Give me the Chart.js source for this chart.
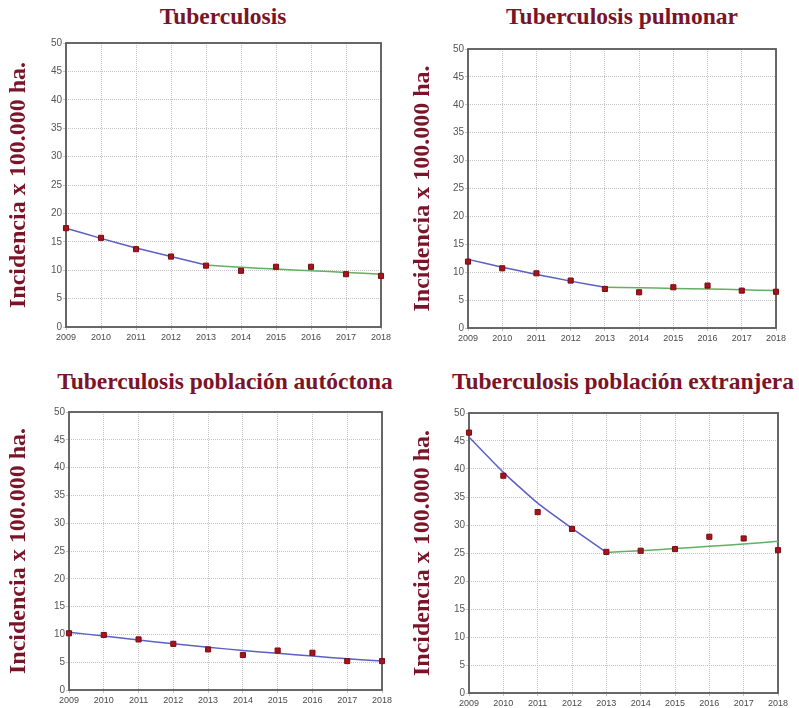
<!DOCTYPE html>
<html>
<head>
<meta charset="utf-8">
<script src="https://cdn.jsdelivr.net/npm/chart.js@4.4.1/dist/chart.umd.min.js"></script>
<style>
  body { margin: 0; background: #fff; width: 799px; height: 708px; position: relative; overflow: hidden; }
  .box { position: absolute; }
  .ttl {
    position: absolute; width: 420px; text-align: center; white-space: nowrap;
    font-family: "Liberation Serif", "Times New Roman", serif; font-weight: bold;
    font-size: 23.5px; color: #7a1428; line-height: 28px;
  }
</style>
</head>
<body>

<div class="ttl" style="left:13px;top:2px">Tuberculosis</div>
<div class="ttl" style="left:412px;top:2px">Tuberculosis pulmonar</div>
<div class="ttl" style="left:15px;top:367px">Tuberculosis población autóctona</div>
<div class="ttl" style="left:413px;top:367px">Tuberculosis población extranjera</div>

<canvas class="box" id="c1" width="400" height="320" style="left:0;top:30px"></canvas>
<canvas class="box" id="c2" width="399" height="320" style="left:400px;top:30px"></canvas>
<canvas class="box" id="c3" width="400" height="313" style="left:0;top:395px"></canvas>
<canvas class="box" id="c4" width="399" height="313" style="left:400px;top:395px"></canvas>

<script>
// years on the x axis
const years = ['2009', '2010', '2011', '2012', '2013', '2014', '2015', '2016', '2017', '2018'];
const yMin = 0, yMax = 50, yStep = 5;
const axisTitle = 'Incidencia x 100.000 ha.';

// Tuberculosis
const tbPoints = [17.4, 15.7, 13.7, 12.4, 10.8, 9.9, 10.6, 10.6, 9.3, 9.0];
const tbTrendA = [17.4, 15.6, 13.9, 12.4, 10.9, null, null, null, null, null];
const tbTrendB = [null, null, null, null, 10.9, 10.5, 10.2, 9.9, 9.6, 9.3];

// Tuberculosis pulmonar
const pulPoints = [11.9, 10.7, 9.8, 8.5, 7.0, 6.4, 7.3, 7.6, 6.7, 6.5];
const pulTrendA = [12.3, 10.9, 9.6, 8.4, 7.3, null, null, null, null, null];
const pulTrendB = [null, null, null, null, 7.3, 7.2, 7.1, 7.0, 6.85, 6.7];

// Tuberculosis población autóctona
const autPoints = [10.2, 9.9, 9.1, 8.3, 7.3, 6.3, 7.1, 6.7, 5.2, 5.2];
const autTrend = [10.4, 9.7, 9.0, 8.3, 7.7, 7.1, 6.6, 6.1, 5.6, 5.2];

// Tuberculosis población extranjera
const extPoints = [46.5, 38.8, 32.3, 29.3, 25.2, 25.4, 25.7, 27.9, 27.6, 25.5];
const extTrendA = [45.7, 39.4, 33.9, 29.4, 25.1, null, null, null, null, null];
const extTrendB = [null, null, null, null, 25.1, 25.4, 25.8, 26.2, 26.6, 27.1];

const MAROON = '#7a1428';
const BLUE = '#5b60c6';
const GREEN = '#62b062';

// frame around the plot area
const framePlugin = {
    id: 'frame',
    beforeDatasetsDraw(chart) {
        const a = chart.chartArea, c = chart.ctx;
        c.save();
        c.strokeStyle = '#595959';
        c.lineWidth = 1.8;
        c.strokeRect(a.left, a.top, a.right - a.left, a.bottom - a.top);
        c.restore();
    }
};

function trendSet(data, color) {
    return {
        data: data, borderColor: color, borderWidth: 1.5,
        pointRadius: 0, tension: 0.15, spanGaps: false, clip: false
    };
}

function makeChart(id, points, trends, lay) {
    const sets = [{
        data: points, showLine: false, pointStyle: 'rect', pointRadius: 3.6,
        pointBackgroundColor: '#a5131c', pointBorderColor: '#7c0b12', pointBorderWidth: 1, clip: false
    }];
    trends.forEach(t => sets.push(trendSet(t[0], t[1])));

    new Chart(document.getElementById(id), {
        type: 'line',
        data: { labels: years, datasets: sets },
        plugins: [framePlugin],
        options: {
            responsive: false,
            animation: false,
            layout: { padding: { top: lay.top, right: lay.right, left: 0, bottom: 0 } },
            plugins: { legend: { display: false }, tooltip: { enabled: false } },
            scales: {
                x: {
                    offset: false,
                    grid: { color: '#c4c4c4', lineWidth: 1, tickLength: 3 },
                    border: { display: false, dash: [1, 1] },
                    ticks: { autoSkip: false, maxRotation: 0, padding: 2, color: '#4a4a4a',
                             font: { family: 'Liberation Sans', size: 9 } },
                    afterFit: s => { s.height = lay.xh; }
                },
                y: {
                    min: yMin, max: yMax,
                    grid: { color: '#c4c4c4', lineWidth: 1, tickLength: 3 },
                    border: { display: false, dash: [1, 1] },
                    ticks: { stepSize: yStep, padding: 1, color: '#555',
                             font: { family: 'Liberation Sans', size: 10 } },
                    title: {
                        display: true, text: axisTitle, color: MAROON,
                        font: { family: 'Liberation Serif', size: 24, weight: 'bold' },
                        padding: { top: lay.tpad, bottom: 0 }
                    },
                    afterFit: s => { s.width = lay.yw; }
                }
            }
        }
    });
}

makeChart('c1', tbPoints, [[tbTrendA, BLUE], [tbTrendB, GREEN]],
    { top: 13, right: 19, xh: 23, yw: 66, tpad: 4 });
makeChart('c2', pulPoints, [[pulTrendA, BLUE], [pulTrendB, GREEN]],
    { top: 19, right: 23, xh: 22, yw: 68, tpad: 8 });
makeChart('c3', autPoints, [[autTrend, BLUE]],
    { top: 17, right: 18, xh: 18, yw: 69, tpad: 4 });
makeChart('c4', extPoints, [[extTrendA, BLUE], [extTrendB, GREEN]],
    { top: 18, right: 21, xh: 15, yw: 69, tpad: 8 });
</script>
</body>
</html>
